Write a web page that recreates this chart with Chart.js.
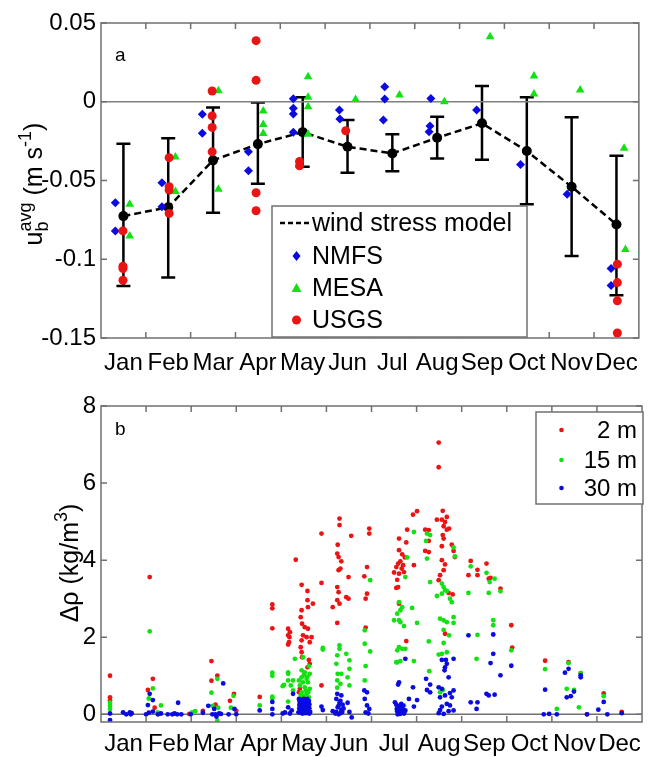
<!DOCTYPE html>
<html lang="en">
<head>
<meta charset="UTF-8" />
<title>Bottom velocity and density difference by month</title>
<style>
  * { box-sizing: border-box; margin: 0; padding: 0; }
  body { background: #fff; width: 649px; height: 757px; overflow: hidden; }
  canvas { display: block; }
</style>
</head>
<body>
<canvas id="chartA" width="649" height="378"></canvas>
<canvas id="chartB" width="649" height="379"></canvas>

<script src="https://cdn.jsdelivr.net/npm/chart.js"></script>
<script>
// ---- data, panel a ----
const months = ['Jan', 'Feb', 'Mar', 'Apr', 'May', 'Jun', 'Jul', 'Aug', 'Sep', 'Oct', 'Nov', 'Dec'];
const monthCenters = [0.5, 1.5, 2.5, 3.5, 4.5, 5.5, 6.5, 7.5, 8.5, 9.5, 10.5, 11.5];
const monthEdges = [1, 2, 3, 4, 5, 6, 7, 8, 9, 10, 11];
const windModel = [-0.0726, -0.067, -0.0372, -0.0269, -0.0193, -0.0286, -0.0328, -0.0229, -0.0137, -0.0313, -0.054, -0.0779];
const windHigh = [-0.0267, -0.0231, -0.0036, -0.0004, 0.0028, -0.0116, -0.0207, -0.0095, 0.010, 0.0028, -0.0099, -0.0343];
const windLow = [-0.117, -0.1116, -0.0705, -0.052, -0.0413, -0.0451, -0.0442, -0.036, -0.0368, -0.065, -0.098, -0.1228];
const nmfs = [
  [0.32, -0.0642], [0.32, -0.082], [1.36, -0.0515], [1.36, -0.0667], [2.26, -0.008], [2.26, -0.020],
  [3.29, -0.0318], [3.29, -0.0438], [4.29, 0.0019], [4.29, -0.0042], [4.29, -0.0078], [4.29, -0.0193],
  [5.32, -0.0053], [5.33, -0.011], [6.33, 0.0095], [6.33, 0.0017], [6.30, -0.0116],
  [7.36, 0.0021], [7.34, -0.0154], [7.32, -0.019], [8.38, -0.0053], [9.36, -0.0398], [10.40, -0.0588],
  [11.38, -0.1059], [11.38, -0.1167]
];
const mesa = [
  [0.64, -0.065], [0.64, -0.0853], [1.66, -0.035], [1.66, -0.057], [2.62, 0.007], [2.62, -0.0555],
  [3.62, -0.0059], [3.62, -0.0144], [3.62, -0.0201], [4.62, 0.0159], [4.62, 0.0028], [4.62, -0.0032], [4.62, -0.0207],
  [5.68, 0.0015], [6.66, 0.0043], [7.66, 0.0], [8.68, 0.0413], [9.66, 0.0163], [9.66, 0.0049],
  [10.69, 0.0074], [11.67, -0.0296], [11.70, -0.0938]
];
const usgs = [
  [0.49, -0.082], [0.49, -0.1044], [0.49, -0.1059], [0.49, -0.1133],
  [1.52, -0.0355], [1.52, -0.054], [1.52, -0.0561], [1.52, -0.0709],
  [2.48, 0.0068], [2.48, -0.009], [2.48, -0.0163], [2.48, -0.0318],
  [3.46, 0.0388], [3.46, 0.0136], [3.46, -0.0578], [3.46, -0.0692],
  [4.43, -0.0379], [4.43, -0.0407], [5.46, -0.0184],
  [11.52, -0.1031], [11.52, -0.1148], [11.52, -0.1264], [11.52, -0.1468]
];
const yTicksA = [-0.15, -0.1, -0.05, 0, 0.05];
const yTickLabelsA = ['-0.15', '-0.1', '-0.05', '0', '0.05'];

// ---- data, panel b (month, delta rho) ----
const rho2m = [
  [0.20, 1.00], [0.20, 0.44], [0.20, 0.36],
  [1.08, 3.56], [1.15, 0.92], [1.04, 0.63], [1.19, 0.17], [1.28, 0.01],
  [1.96, 0.01], [2.26, 0.09], [2.45, 1.38], [2.45, 0.87], [2.58, 1.00], [2.54, 0.25], [2.86, 0.35], [2.95, 0.53], [3.00, 0.09],
  [3.52, 0.45], [3.80, 2.85], [3.80, 2.75], [3.80, 2.23],
  [4.15, 2.22], [4.15, 2.05], [4.15, 1.81], [4.17, 1.87], [4.19, 2.13], [4.18, 2.00], [4.32, 4.01],
  [4.45, 3.36], [4.58, 3.20], [4.58, 2.96], [4.59, 2.78], [4.70, 2.87], [4.45, 2.70], [4.43, 2.52], [4.46, 2.35],
  [4.52, 2.26], [4.59, 2.22], [4.48, 2.05], [4.56, 2.00], [4.67, 2.00], [4.63, 1.87], [4.45, 1.92], [4.43, 1.74],
  [4.45, 1.61], [4.46, 1.48], [4.61, 1.41], [4.63, 1.31], [4.58, 1.22], [4.41, 0.66], [4.39, 0.57], [4.89, 0.75],
  [4.89, 4.69], [4.89, 3.41],
  [5.29, 5.08], [5.29, 4.91], [5.55, 4.63], [5.25, 4.40], [5.24, 4.17], [5.27, 4.08], [5.33, 3.97], [5.27, 3.74],
  [5.31, 3.78], [5.49, 3.56], [5.24, 3.30], [5.27, 3.17], [5.24, 2.96], [5.29, 2.87], [5.44, 3.04], [5.49, 3.00],
  [5.14, 2.78], [5.24, 2.37],
  [5.95, 4.82], [5.95, 4.69], [5.90, 3.82], [5.84, 3.58], [5.90, 3.13], [5.87, 3.00], [5.87, 2.25],
  [7.01, 5.27], [6.92, 5.18], [6.79, 4.79], [6.61, 4.56], [6.77, 4.46], [6.61, 4.26], [6.68, 4.15], [6.74, 4.07],
  [6.64, 3.97], [6.59, 3.91], [6.70, 3.87], [6.67, 3.78], [6.55, 3.82], [6.50, 3.68], [6.61, 3.65], [6.72, 3.69],
  [6.57, 3.49], [6.59, 3.30], [6.55, 3.28], [6.94, 3.87], [6.61, 2.87], [6.77, 1.90],
  [7.49, 7.05], [7.49, 6.41], [7.58, 5.28], [7.45, 5.05], [7.56, 5.05], [7.67, 5.12], [7.63, 4.99], [7.60, 4.88],
  [7.67, 4.79], [7.72, 4.82], [7.19, 4.79], [7.27, 4.78], [7.58, 4.65], [7.60, 4.56], [7.27, 4.50], [7.78, 4.40],
  [7.56, 4.36], [7.82, 4.24], [7.19, 4.24], [7.27, 4.21], [7.85, 4.08], [7.56, 4.00], [7.63, 3.89], [7.60, 3.74],
  [7.52, 3.61], [7.49, 3.48], [7.80, 3.11], [7.71, 3.15], [7.63, 2.09],
  [8.20, 3.98], [8.15, 3.61], [8.35, 3.75], [8.35, 3.61], [8.55, 3.91], [8.60, 3.52], [8.64, 3.54], [8.86, 3.26],
  [9.10, 2.31], [9.12, 1.73],
  [9.85, 1.39], [10.37, 1.35], [10.64, 1.07], [10.78, 0.00], [11.15, 0.54], [11.55, 0.06]
];
const rho15m = [
  [0.20, 0.30], [0.20, 0.22], [0.20, 0.14],
  [1.08, 2.15], [1.15, 0.67], [1.06, 0.41], [1.33, 0.23], [1.26, 0.05],
  [2.02, 0.05], [2.09, 0.08], [2.45, 0.56], [2.58, 0.92], [2.60, 0.17], [2.88, 0.17], [2.94, 0.48], [2.58, -0.16], [2.47, 0.22],
  [3.52, 0.23], [3.80, 1.08], [3.80, 1.00], [3.80, 0.46], [3.80, 0.41], [4.03, 0.73],
  [4.15, 1.05], [4.15, 1.09], [4.15, 0.88], [4.06, 0.76], [4.21, 0.75], [4.15, 0.33], [4.30, 1.44], [4.26, 0.62], [4.26, 0.88],
  [4.48, 1.48], [4.61, 1.25], [4.45, 1.14], [4.52, 1.09], [4.63, 1.05], [4.45, 0.96], [4.56, 0.92], [4.48, 0.83],
  [4.59, 0.83], [4.41, 0.75], [4.52, 0.70], [4.63, 0.66], [4.45, 0.57], [4.56, 0.53], [4.48, 0.44], [4.41, 0.40],
  [4.61, 0.44], [4.52, 0.36], [4.39, 0.88], [4.92, 1.68], [4.92, 1.72],
  [4.50, 1.02], [4.58, 0.98], [4.54, 0.62], [4.60, 0.58], [4.43, 0.50], [4.50, 0.48],
  [5.29, 1.79], [5.29, 1.70], [5.44, 1.57], [5.24, 1.53], [5.51, 1.40], [5.22, 1.31], [5.51, 1.18], [5.33, 1.05],
  [5.25, 1.05], [5.47, 0.96], [5.24, 0.88], [5.31, 0.79], [5.51, 0.75], [5.24, 0.69],
  [5.97, 3.48], [5.85, 2.18], [5.85, 1.83], [5.97, 1.63], [5.87, 1.25], [5.85, 0.88],
  [6.94, 4.73], [6.79, 4.07], [6.75, 3.56], [6.61, 2.91], [6.68, 2.78], [6.64, 2.70], [6.57, 2.61], [6.90, 2.76],
  [6.50, 2.44], [6.61, 2.44], [6.64, 2.39], [7.01, 2.37], [6.72, 2.29], [6.61, 1.74], [6.57, 1.66], [6.68, 1.70],
  [6.75, 1.70], [6.57, 1.35], [6.55, 1.35], [6.64, 1.38], [6.94, 1.38], [6.72, 0.23],
  [7.23, 4.69], [7.30, 4.65], [7.82, 4.33], [7.85, 4.10], [7.21, 4.50], [7.23, 4.04], [7.30, 3.43], [7.56, 3.39],
  [7.60, 3.30], [7.63, 3.22], [7.67, 3.20], [7.56, 3.13], [7.45, 3.07], [7.74, 3.00], [7.78, 2.91], [7.52, 2.48],
  [7.60, 2.44], [7.82, 2.52], [7.82, 2.37], [7.67, 2.39], [7.60, 2.19], [7.72, 2.05], [7.27, 1.89], [7.60, 1.85],
  [7.67, 1.61], [7.56, 1.57], [7.49, 1.55], [7.58, 0.63], [7.28, 1.12], [7.52, 0.57],
  [8.20, 3.84], [8.15, 3.15], [8.35, 2.06], [8.33, 1.44], [8.55, 3.67], [8.62, 3.43], [8.73, 3.52], [8.60, 3.15],
  [8.86, 3.19], [8.70, 2.44], [8.70, 2.31], [9.10, 1.66],
  [9.85, 1.17], [10.11, 0.14], [10.37, 1.33], [10.33, 0.66], [10.49, 0.63], [10.64, 1.07], [10.60, 0.18], [11.15, 0.47]
];
const rho30m = [
  [0.20, 0.02], [0.20, -0.15], [0.49, 0.05], [0.56, 0.00], [0.64, 0.05], [0.66, 0.00], [0.68, 0.03],
  [1.08, 0.53], [1.15, 0.37], [1.04, 0.24], [1.06, 0.04], [1.15, 0.07], [1.00, 0.00], [1.33, 0.02], [1.26, 0.00],
  [1.48, 0.00], [1.58, 0.00], [1.63, 0.02], [1.69, 0.00], [1.78, 0.00], [1.71, 0.30], [1.99, 0.00],
  [2.26, 0.04], [2.38, 0.22], [2.71, 0.80], [2.51, 0.14], [2.54, 0.00], [2.56, -0.06], [2.47, 0.00], [2.62, 0.02],
  [2.66, 0.01], [2.83, 0.00], [2.96, 0.14], [3.00, 0.00],
  [3.52, 0.10], [3.80, 0.32], [3.80, 0.14], [3.80, 0.00], [4.03, 0.02],
  [4.15, 0.18], [4.26, 0.53], [4.08, 0.05], [4.23, 0.10], [4.19, 0.02],
  [4.39, 0.40], [4.43, 0.36], [4.46, 0.38], [4.50, 0.40], [4.54, 0.37], [4.57, 0.40], [4.41, 0.30], [4.45, 0.27],
  [4.48, 0.30], [4.52, 0.28], [4.56, 0.30], [4.59, 0.27], [4.43, 0.20], [4.47, 0.18], [4.50, 0.22], [4.54, 0.20],
  [4.58, 0.19], [4.61, 0.22], [4.41, 0.12], [4.45, 0.10], [4.49, 0.13], [4.52, 0.10], [4.56, 0.12], [4.60, 0.09],
  [4.43, 0.04], [4.47, 0.02], [4.50, 0.05], [4.54, 0.03], [4.58, 0.04], [4.62, 0.02], [4.38, 0.05], [4.64, 0.06],
  [4.41, 0.34], [4.44, 0.32], [4.48, 0.35], [4.51, 0.33], [4.55, 0.34], [4.58, 0.33], [4.61, 0.35],
  [4.40, 0.24], [4.44, 0.23], [4.47, 0.25], [4.51, 0.24], [4.55, 0.25], [4.58, 0.23], [4.62, 0.26],
  [4.40, 0.16], [4.44, 0.15], [4.47, 0.14], [4.51, 0.16], [4.55, 0.15], [4.59, 0.14], [4.62, 0.16],
  [4.42, 0.07], [4.46, 0.07], [4.49, 0.08], [4.53, 0.06], [4.57, 0.08], [4.60, 0.06],
  [4.89, 0.20], [4.92, 0.11],
  [5.24, 0.53], [5.33, 0.49], [5.22, 0.40], [5.29, 0.30], [5.36, 0.25], [5.25, 0.18], [5.33, 0.12], [5.22, 0.06],
  [5.14, 0.08], [5.47, 0.30], [5.51, 0.06], [5.56, -0.08], [5.27, 0.00], [5.31, 0.03], [5.20, 0.02], [5.38, 0.15],
  [5.27, 0.22], [5.31, 0.35], [5.35, 0.06],
  [5.84, 0.62], [5.90, 0.57], [5.85, 0.40], [5.90, 0.23], [5.95, 0.14], [5.87, 0.05], [5.93, 0.02],
  [6.75, 1.44], [6.61, 0.83], [6.59, 0.77], [6.92, 0.70], [7.01, 0.37], [6.83, 0.40], [6.94, 0.20], [6.52, 0.31],
  [6.55, 0.25], [6.59, 0.20], [6.62, 0.15], [6.66, 0.18], [6.70, 0.10], [6.57, 0.08], [6.61, 0.05], [6.65, 0.03],
  [6.68, 0.08], [6.72, 0.02], [6.75, 0.10], [6.63, 0.01], [6.58, 0.00], [6.70, 0.22], [6.66, 0.27],
  [6.60, 0.12], [6.64, 0.10], [6.68, 0.14], [6.62, 0.22], [6.56, 0.14], [6.73, 0.06],
  [7.56, 1.41], [7.65, 1.41], [7.82, 1.44], [7.67, 1.31], [7.62, 1.14], [7.63, 1.22], [7.21, 0.92], [7.71, 0.96],
  [7.30, 0.77], [7.23, 0.63], [7.30, 0.57], [7.49, 0.70], [7.56, 0.66], [7.82, 0.62], [7.74, 0.55], [7.63, 0.49],
  [7.78, 0.44], [7.52, 0.44], [7.67, 0.27], [7.56, 0.20], [7.74, 0.23], [7.82, 0.10], [7.49, 0.03], [7.60, 0.01],
  [7.71, 0.08], [7.52, 0.11],
  [8.15, 2.05], [8.20, 0.31], [8.35, 0.31], [8.33, 0.14], [8.70, 2.07], [8.70, 1.57], [8.64, 1.33], [9.10, 1.26],
  [8.86, 1.01], [8.55, 0.53], [8.60, 0.49], [8.73, 0.51],
  [9.85, 0.64], [9.82, 0.00], [9.94, 0.01], [10.11, 0.00], [10.37, 1.18], [10.29, 1.08], [10.42, 0.47], [10.33, 0.44],
  [10.49, 0.59], [10.64, 1.01], [10.64, 0.96], [10.78, 0.00], [11.03, 0.12], [11.23, 0.00], [11.15, 0.32], [11.55, 0.03]
];
const yTicksB = [0, 2, 4, 6, 8];

const RED = 'rgb(235,20,20)';
const GREEN = 'rgb(20,225,20)';
const BLUE = 'rgb(10,10,225)';
const FONT = '"Liberation Sans", Arial, sans-serif';

Chart.defaults.font.family = FONT;
Chart.defaults.color = '#000';
Chart.defaults.animation = false;

const toXY = arr => arr.map(p => ({ x: p[0], y: p[1] }));

// MATLAB-like box with inward ticks
const axesBox = {
  id: 'axesBox',
  afterDatasetsDraw(chart) {
    const { ctx, chartArea: a, scales: { x, y } } = chart;
    ctx.save();
    ctx.strokeStyle = '#707070';
    ctx.lineWidth = 1.5;
    ctx.strokeRect(a.left, a.top, a.right - a.left, a.bottom - a.top);
    ctx.beginPath();
    monthEdges.forEach(m => {
      const px = x.getPixelForValue(m);
      ctx.moveTo(px, a.bottom); ctx.lineTo(px, a.bottom - 6);
      ctx.moveTo(px, a.top); ctx.lineTo(px, a.top + 6);
    });
    y.ticks.forEach(t => {
      const py = y.getPixelForValue(t.value);
      ctx.moveTo(a.left, py); ctx.lineTo(a.left + 6, py);
      ctx.moveTo(a.right, py); ctx.lineTo(a.right - 6, py);
    });
    ctx.stroke();
    ctx.restore();
  }
};

// rotated y title with sub/superscripts
function drawRich(ctx, parts, baseX, centerY) {
  ctx.save();
  let total = 0;
  parts.forEach(p => {
    ctx.font = p.s + 'px ' + FONT;
    p.w = ctx.measureText(p.t).width;
    if (!p.stay) total += p.w;
  });
  ctx.translate(baseX, centerY);
  ctx.rotate(-Math.PI / 2);
  ctx.fillStyle = '#000';
  ctx.textBaseline = 'alphabetic';
  let cx = -total / 2;
  parts.forEach(p => {
    ctx.font = p.s + 'px ' + FONT;
    ctx.fillText(p.t, cx, p.dy || 0);
    if (!p.stay) cx += p.w;
  });
  ctx.restore();
}

function panelScales(ymin, ymax, yTicks, yLabels, xHeight, xPad) {
  return {
    x: {
      type: 'linear', min: 0, max: 12,
      grid: { display: false, drawTicks: false },
      border: { display: false },
      afterBuildTicks: s => { s.ticks = monthCenters.map(v => ({ value: v })); },
      afterFit: s => { s.height = xHeight; },
      ticks: {
        autoSkip: false, maxRotation: 0, padding: xPad,
        font: { size: 24 },
        callback: (v, i) => months[i]
      }
    },
    y: {
      type: 'linear', min: ymin, max: ymax,
      grid: { display: false, drawTicks: false },
      border: { display: false },
      afterBuildTicks: s => { s.ticks = yTicks.map(v => ({ value: v })); },
      afterFit: s => { s.width = 101; },
      ticks: {
        padding: 5,
        font: { size: 24 },
        callback: (v, i) => yLabels[i]
      }
    }
  };
}

// ---------- panel a ----------
const panelA = {
  id: 'panelA',
  beforeDatasetsDraw(chart) {
    const { ctx, scales: { x, y } } = chart;
    ctx.save();
    ctx.strokeStyle = '#000';
    ctx.lineWidth = 2.5;
    monthCenters.forEach((m, i) => {
      const px = x.getPixelForValue(m);
      const top = y.getPixelForValue(windHigh[i]);
      const bot = y.getPixelForValue(windLow[i]);
      ctx.beginPath();
      ctx.moveTo(px, top); ctx.lineTo(px, bot);
      ctx.moveTo(px - 7, top); ctx.lineTo(px + 7, top);
      ctx.moveTo(px - 7, bot); ctx.lineTo(px + 7, bot);
      ctx.stroke();
    });
    ctx.restore();
  },
  afterDraw(chart) {
    const { ctx } = chart;
    ctx.save();
    // panel letter
    ctx.fillStyle = '#000';
    ctx.font = '19px ' + FONT;
    ctx.textBaseline = 'middle';
    ctx.fillText('a', 115, 56);
    // legend
    ctx.fillStyle = '#fff';
    ctx.fillRect(272, 206, 255, 131);
    ctx.strokeStyle = '#707070';
    ctx.lineWidth = 1.5;
    ctx.strokeRect(272, 206, 255, 131);
    ctx.strokeStyle = '#000';
    ctx.lineWidth = 2.5;
    ctx.setLineDash([5, 3]);
    ctx.beginPath(); ctx.moveTo(280, 223); ctx.lineTo(311, 223); ctx.stroke();
    ctx.setLineDash([]);
    ctx.fillStyle = BLUE;
    ctx.beginPath(); ctx.moveTo(296.5, 251); ctx.lineTo(300.5, 256); ctx.lineTo(296.5, 261); ctx.lineTo(292.5, 256); ctx.closePath(); ctx.fill();
    ctx.fillStyle = GREEN;
    ctx.beginPath(); ctx.moveTo(296.5, 283); ctx.lineTo(301.5, 292); ctx.lineTo(291.5, 292); ctx.closePath(); ctx.fill();
    ctx.fillStyle = RED;
    ctx.beginPath(); ctx.arc(296.5, 320, 4.5, 0, Math.PI * 2); ctx.fill();
    ctx.fillStyle = '#000';
    ctx.font = '25px ' + FONT;
    ctx.textBaseline = 'middle';
    ['wind stress model', 'NMFS', 'MESA', 'USGS'].forEach((t, i) => {
      ctx.fillText(t, 312, [223, 256, 288, 320][i] + 1);
    });
    ctx.restore();
    drawRich(ctx, [
      { t: 'u', s: 25 },
      { t: 'b', s: 18, dy: 6, stay: true },
      { t: 'avg', s: 18, dy: -11 },
      { t: ' (m s', s: 25 },
      { t: '-1', s: 18, dy: -11 },
      { t: ')', s: 25 }
    ], 42, 184);
  }
};

new Chart(document.getElementById('chartA'), {
  type: 'scatter',
  data: {
    datasets: [
      { label: 'USGS', data: toXY(usgs), pointStyle: 'circle', pointRadius: 4.5, backgroundColor: RED, borderWidth: 0 },
      { label: 'MESA', data: toXY(mesa), pointStyle: 'triangle', pointRadius: 5, backgroundColor: GREEN, borderWidth: 0 },
      { label: 'NMFS', data: toXY(nmfs), pointStyle: 'rectRot', pointRadius: 4.5, backgroundColor: BLUE, borderWidth: 0 },
      {
        label: 'wind stress model',
        data: monthCenters.map((m, i) => ({ x: m, y: windModel[i] })),
        showLine: true, borderColor: '#000', borderWidth: 2.5, borderDash: [7, 4],
        pointRadius: 5, backgroundColor: '#000', pointBorderWidth: 0
      },
      {
        label: 'zero', data: [{ x: 0, y: 0 }, { x: 12, y: 0 }],
        showLine: true, borderColor: '#808080', borderWidth: 1.5, pointRadius: 0
      }
    ]
  },
  options: {
    responsive: false,
    devicePixelRatio: 1,
    layout: { padding: { top: 23, right: 2, left: 0, bottom: 0 } },
    plugins: { legend: { display: false }, tooltip: { enabled: false } },
    scales: panelScales(-0.15, 0.05, yTicksA, yTickLabelsA, 40, 11)
  },
  plugins: [panelA, axesBox]
});

// ---------- panel b ----------
const panelB = {
  id: 'panelB',
  afterDraw(chart) {
    const { ctx } = chart;
    ctx.save();
    ctx.fillStyle = '#000';
    ctx.font = '19px ' + FONT;
    ctx.textBaseline = 'middle';
    ctx.fillText('b', 115, 52);
    // legend
    ctx.fillStyle = '#fff';
    ctx.fillRect(536, 34, 107, 92);
    ctx.strokeStyle = '#707070';
    ctx.lineWidth = 1.5;
    ctx.strokeRect(536, 34, 107, 92);
    const rows = [['2 m', RED, 52], ['15 m', GREEN, 82], ['30 m', BLUE, 110]];
    ctx.font = '24px ' + FONT;
    ctx.textAlign = 'right';
    rows.forEach(([t, c, yy]) => {
      ctx.fillStyle = c;
      ctx.beginPath(); ctx.arc(561.5, yy, 2.3, 0, Math.PI * 2); ctx.fill();
      ctx.fillStyle = '#000';
      ctx.fillText(t, 637, yy + 1);
    });
    ctx.restore();
    drawRich(ctx, [
      { t: '\u0394\u03c1 (kg/m', s: 25 },
      { t: '3', s: 18, dy: -11 },
      { t: ')', s: 25 }
    ], 78, 185);
  }
};

const dotSet = (label, arr, color) => ({
  label, data: toXY(arr), pointStyle: 'circle', pointRadius: 2.4, backgroundColor: color, borderWidth: 0
});

new Chart(document.getElementById('chartB'), {
  type: 'scatter',
  data: {
    datasets: [
      dotSet('30 m', rho30m, BLUE),
      dotSet('15 m', rho15m, GREEN),
      dotSet('2 m', rho2m, RED),
      {
        label: 'zero', data: [{ x: 0, y: 0 }, { x: 12, y: 0 }],
        showLine: true, borderColor: '#707070', borderWidth: 1.5, pointRadius: 0
      }
    ]
  },
  options: {
    responsive: false,
    devicePixelRatio: 1,
    layout: { padding: { top: 28, right: 2, left: 0, bottom: 0 } },
    plugins: { legend: { display: false }, tooltip: { enabled: false } },
    scales: panelScales(-0.2, 8, yTicksB, yTicksB.map(String), 35, 8)
  },
  plugins: [panelB, axesBox]
});
</script>
</body>
</html>
